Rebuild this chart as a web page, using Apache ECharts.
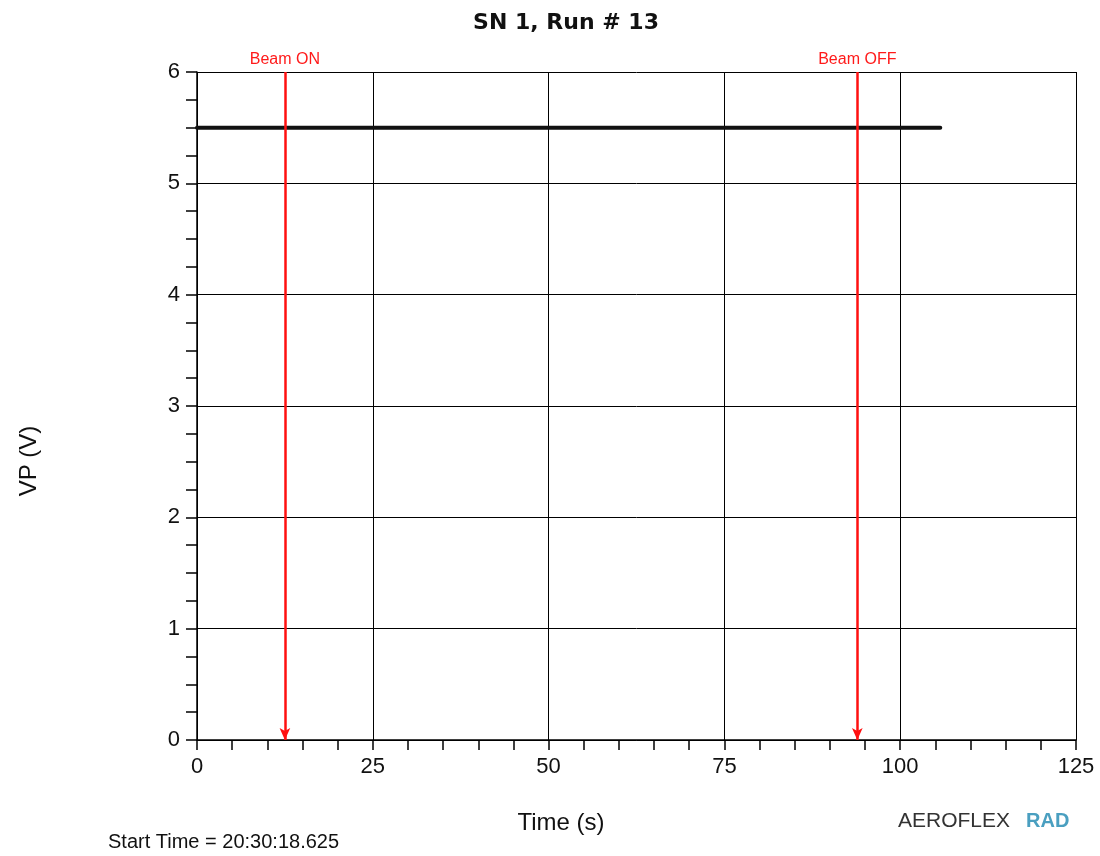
<!DOCTYPE html>
<html>
<head>
<meta charset="utf-8">
<script src="https://cdn.jsdelivr.net/npm/echarts@6/dist/echarts.min.js"></script>
<style>
  html, body { margin: 0; padding: 0; background: #fff; }
  #chart { width: 1100px; height: 856px; }
</style>
</head>
<body>
<div id="chart"></div>
<script>
// Supply voltage trace recorded during the run (time in s, voltage in V)
const timeValues = [0, 20, 40, 60, 80, 100, 105.7];
const vpValues = [5.5, 5.5, 5.5, 5.5, 5.5, 5.5, 5.5];

// Beam event markers (time in s)
const beamEvents = [
  { name: 'Beam ON', time: 12.5 },
  { name: 'Beam OFF', time: 93.9 }
];

const xTicks = { min: 0, max: 125, interval: 25 };
const yTicks = { min: 0, max: 6, interval: 1 };

const titleText = 'SN 1, Run # 13';
const xAxisTitle = 'Time (s)';
const yAxisTitle = 'VP (V)';
const startTimeText = 'Start Time = 20:30:18.625';

const FONT = '"Liberation Sans", Arial, sans-serif';
const TITLE_FONT = '"DejaVu Sans", Verdana, sans-serif';

const chart = echarts.init(document.getElementById('chart'));

const seriesData = timeValues.map((t, i) => [t, vpValues[i]]);

const markLines = beamEvents.map(ev => [
  { coord: [ev.time, yTicks.max], name: ev.name },
  { coord: [ev.time, yTicks.min] }
]);

chart.setOption({
  backgroundColor: '#fff',
  animation: false,
  title: {
    text: titleText,
    left: 561,
    textAlign: 'center',
    top: 7,
    textStyle: { fontFamily: TITLE_FONT, fontSize: 22, fontWeight: 'bold', color: '#111' }
  },
  grid: { left: 197, right: 24, top: 72, bottom: 116, show: false },
  xAxis: {
    type: 'value',
    min: xTicks.min, max: xTicks.max, interval: xTicks.interval,
    axisLine: { show: true, onZero: false, lineStyle: { color: '#000', width: 1.5 } },
    axisTick: { show: true, length: 10, lineStyle: { color: '#000', width: 1.5 } },
    minorTick: { show: true, splitNumber: 5, length: 10, lineStyle: { color: '#000', width: 1.5 } },
    axisLabel: { fontFamily: FONT, fontSize: 22, color: '#111', margin: 16 },
    splitLine: { show: true, lineStyle: { color: '#000', width: 1 } }
  },
  yAxis: {
    type: 'value',
    min: yTicks.min, max: yTicks.max, interval: yTicks.interval,
    axisLine: { show: true, onZero: false, lineStyle: { color: '#000', width: 1.5 } },
    axisTick: { show: true, length: 11, lineStyle: { color: '#000', width: 1.5 } },
    minorTick: { show: true, splitNumber: 4, length: 11, lineStyle: { color: '#000', width: 1.5 } },
    axisLabel: { fontFamily: FONT, fontSize: 22, color: '#111', margin: 17 },
    splitLine: { show: true, lineStyle: { color: '#000', width: 1 } }
  },
  series: [
    {
      type: 'line',
      data: seriesData,
      showSymbol: false,
      lineStyle: { color: '#111', width: 4, cap: 'round' },
      z: 3
    },
    {
      type: 'line',
      data: [],
      z: 4,
      markLine: {
        silent: true,
        symbol: ['none', 'arrow'],
        symbolSize: [8, 12],
        lineStyle: { color: '#ff1010', width: 2.5, type: 'solid' },
        label: {
          show: true,
          position: 'start',
          formatter: '{b}',
          distance: 4,
          fontFamily: FONT,
          fontSize: 16,
          color: '#ff1a1a'
        },
        data: markLines
      }
    }
  ],
  graphic: [
    {
      type: 'text',
      x: 561, y: 823,
      style: { text: xAxisTitle, font: '24px ' + FONT, fill: '#111', align: 'center', verticalAlign: 'middle' }
    },
    {
      type: 'text',
      x: 29, y: 461,
      rotation: Math.PI / 2,
      style: { text: yAxisTitle, font: '24px ' + FONT, fill: '#111', align: 'center', verticalAlign: 'middle' }
    },
    {
      type: 'text',
      left: 108, top: 832,
      style: { text: startTimeText, font: '20px ' + FONT, fill: '#111' }
    },
    {
      type: 'text',
      left: 898, top: 811,
      style: { text: 'AEROFLEX', font: '21px ' + FONT, fill: '#333' }
    },
    {
      type: 'text',
      left: 1026, top: 811,
      style: { text: 'RAD', font: 'bold 20px ' + FONT, fill: '#4a9fc0' }
    }
  ]
});
</script>
</body>
</html>
